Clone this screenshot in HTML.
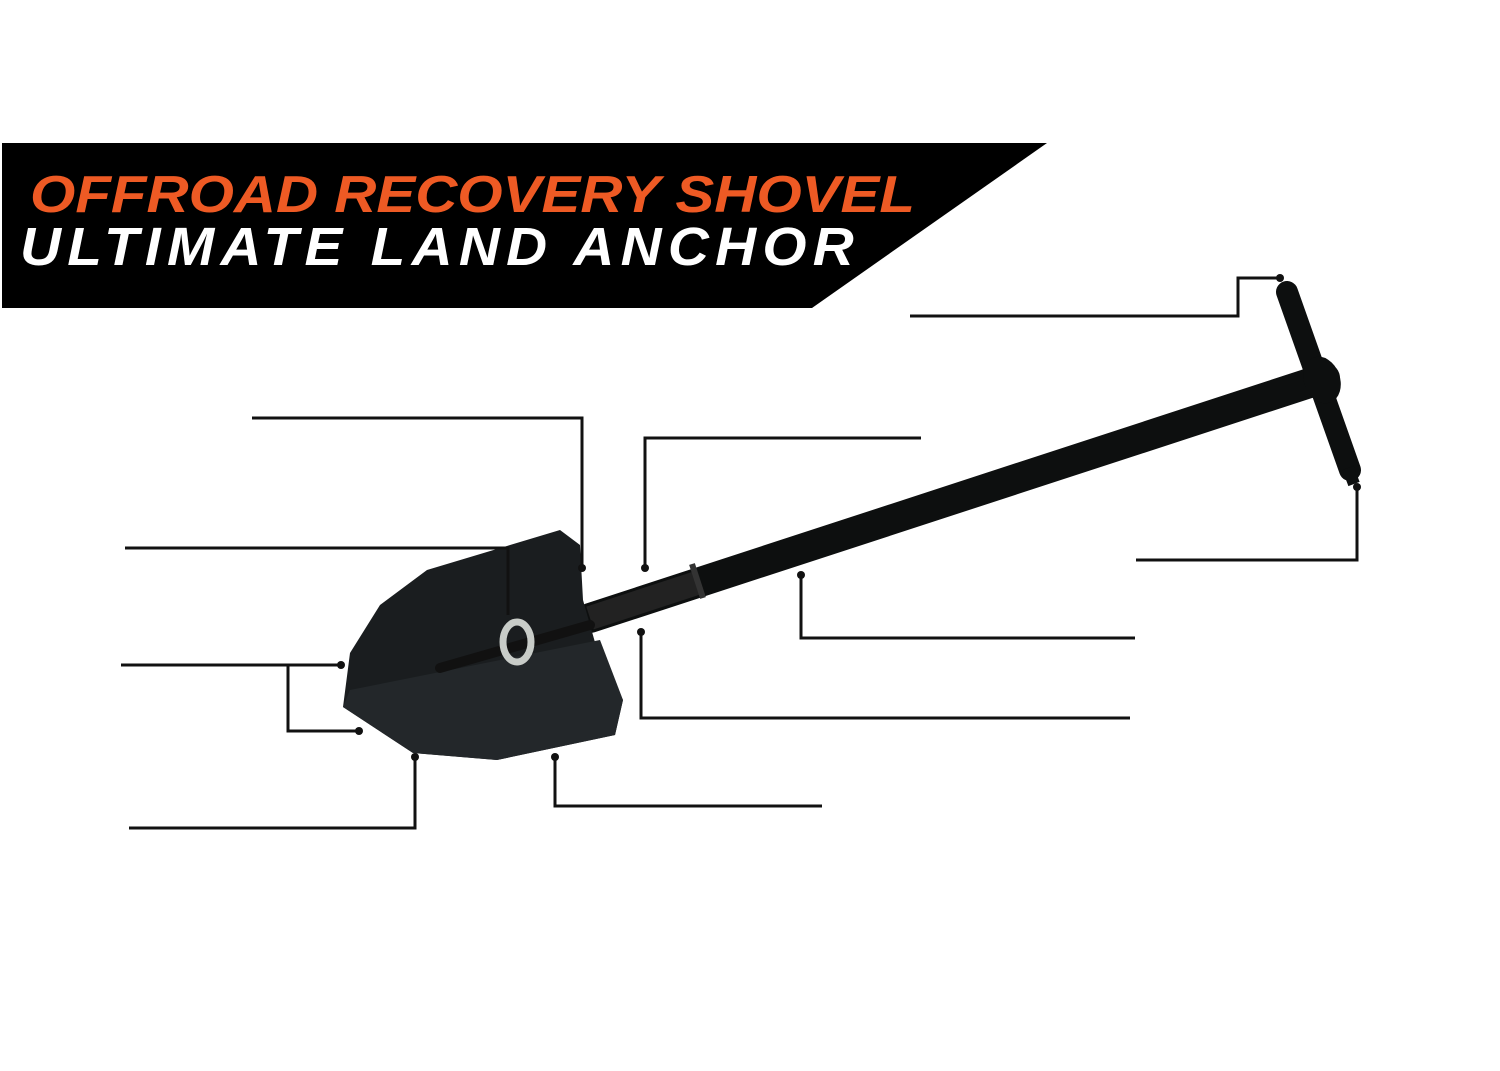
<!DOCTYPE html>
<html><head><meta charset="utf-8"><style>body{margin:0;background:#fff}svg{display:block}</style></head>
<body>
<svg width="1500" height="1071" viewBox="0 0 1500 1071" xmlns="http://www.w3.org/2000/svg">
<rect width="1500" height="1071" fill="#fff"/>
<polygon points="2,143 1047,143 812,308 2,308" fill="#000"/>
<text x="30" y="212" font-family="Liberation Sans, sans-serif" font-weight="bold" font-style="italic" font-size="52" fill="#ee5a24" textLength="885" lengthAdjust="spacingAndGlyphs">OFFROAD RECOVERY SHOVEL</text>
<text x="20" y="265" font-family="Liberation Sans, sans-serif" font-weight="bold" font-style="italic" font-size="54" fill="#fff" letter-spacing="6" textLength="840" lengthAdjust="spacingAndGlyphs">ULTIMATE LAND ANCHOR</text>
<!-- shaft -->
<line x1="590" y1="618" x2="1325" y2="378" stroke="#0d0f0f" stroke-width="30" stroke-linecap="round"/>
<line x1="590" y1="618" x2="700" y2="582" stroke="#222" stroke-width="24"/>
<line x1="692" y1="564" x2="703" y2="598" stroke="#333" stroke-width="6"/>
<!-- T bar -->
<line x1="1287" y1="292" x2="1350" y2="470" stroke="#0d0f0f" stroke-width="22" stroke-linecap="round"/>
<line x1="1348" y1="468" x2="1354" y2="484" stroke="#0d0f0f" stroke-width="12"/>
<ellipse cx="1322" cy="380" rx="18" ry="24" fill="#0d0f0f" transform="rotate(-20 1322 380)"/>
<!-- shovel head -->
<polygon points="427,570 560,530 580,545 583,600 600,660 623,700 615,735 497,760 413,753 343,707 350,653 380,605" fill="#1a1d1f"/>
<polygon points="350,690 600,640 623,700 615,735 497,760 413,753 343,707" fill="#23272a"/>
<line x1="440" y1="668" x2="590" y2="625" stroke="#111" stroke-width="10" stroke-linecap="round"/>
<ellipse cx="517" cy="642" rx="14" ry="20" fill="none" stroke="#c8ccc8" stroke-width="7"/>
<!-- leader lines -->
<g stroke="#111" stroke-width="3" fill="none">
<polyline points="910,316 1238,316 1238,278 1280,278"/>
<polyline points="252,418 582,418 582,568"/>
<polyline points="921,438 645,438 645,568"/>
<polyline points="125,548 508,548 508,615"/>
<polyline points="121,665 341,665"/>
<polyline points="288,665 288,731 359,731"/>
<polyline points="129,828 415,828 415,757"/>
<polyline points="555,757 555,806 822,806"/>
<polyline points="641,632 641,718 1130,718"/>
<polyline points="801,575 801,638 1135,638"/>
<polyline points="1357,487 1357,560 1136,560"/>
</g>
<g fill="#111">
<circle cx="1280" cy="278" r="4"/><circle cx="582" cy="568" r="4"/><circle cx="645" cy="568" r="4"/>
<circle cx="341" cy="665" r="4"/><circle cx="359" cy="731" r="4"/><circle cx="415" cy="757" r="4"/>
<circle cx="555" cy="757" r="4"/><circle cx="641" cy="632" r="4"/><circle cx="801" cy="575" r="4"/>
<circle cx="1357" cy="487" r="4"/>
</g>
</svg>
</body></html>
